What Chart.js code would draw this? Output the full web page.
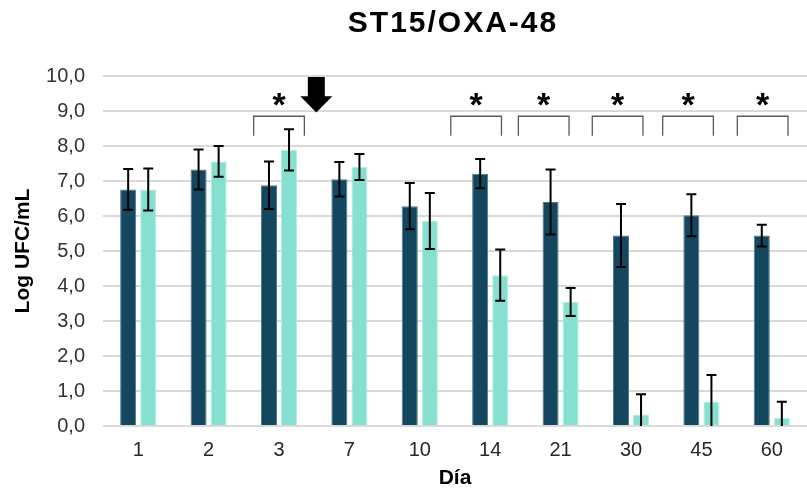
<!DOCTYPE html>
<html>
<head>
<meta charset="utf-8">
<title>ST15/OXA-48</title>
<script src="https://cdn.jsdelivr.net/npm/chart.js@4.4.1/dist/chart.umd.min.js"></script>
<style>
  html, body { margin: 0; padding: 0; background: #fff; }
  #wrap { width: 807px; height: 488px; position: relative; }
</style>
</head>
<body>
<div id="wrap"><canvas id="uptakeChart"></canvas></div>
<script>
'use strict';

var days = ['1', '2', '3', '7', '10', '14', '21', '30', '45', '60'];
var darkValues = [6.76, 7.33, 6.88, 7.05, 6.28, 7.21, 6.40, 5.44, 6.02, 5.44];
var darkErrors = [0.58, 0.57, 0.68, 0.49, 0.66, 0.42, 0.93, 0.90, 0.60, 0.31];
var lightValues = [6.76, 7.56, 7.89, 7.40, 5.86, 4.31, 3.54, 0.33, 0.69, 0.23];
var lightErrors = [0.60, 0.44, 0.59, 0.37, 0.80, 0.73, 0.40, 0.58, 0.77, 0.46];
var yTicks = [0, 1, 2, 3, 4, 5, 6, 7, 8, 9, 10];
var significantDays = ['3', '14', '21', '30', '45', '60'];
var arrowAfterDay = '3';

var FONT = "'Liberation Sans', Arial, sans-serif";
var ctx = document.getElementById('uptakeChart').getContext('2d');

// bracket centre shift, in category widths, per marked day
var bracketShift = { '3': 0, '14': -0.2, '21': -0.24, '30': -0.19, '45': -0.19, '60': -0.13 };

var errorBars = {
  id: 'errorBars',
  afterDatasetsDraw: function(chart) {
    var c = chart.ctx;
    var yScale = chart.scales.y;
    var errs = [darkErrors, lightErrors];
    c.save();
    c.strokeStyle = '#000';
    c.lineWidth = 2;
    chart.data.datasets.forEach(function(ds, di) {
      var meta = chart.getDatasetMeta(di);
      meta.data.forEach(function(bar, i) {
        var v = ds.data[i];
        var e = errs[di][i];
        var yTop = yScale.getPixelForValue(v + e);
        var low = v - e;
        var yBot = yScale.getPixelForValue(Math.max(0, low));
        c.beginPath();
        c.moveTo(bar.x, yTop);
        c.lineTo(bar.x, yBot);
        c.moveTo(bar.x - 5, yTop);
        c.lineTo(bar.x + 5, yTop);
        if (low > 0) {
          c.moveTo(bar.x - 5, yBot);
          c.lineTo(bar.x + 5, yBot);
        }
        c.stroke();
      });
    });
    c.restore();
  }
};

var marks = {
  id: 'marks',
  afterDraw: function(chart) {
    var c = chart.ctx;
    var xScale = chart.scales.x;
    var yScale = chart.scales.y;
    var catW = xScale.getPixelForValue(1) - xScale.getPixelForValue(0);

    c.save();
    // title
    c.fillStyle = '#000';
    c.font = 'bold 30px ' + FONT;
    c.textAlign = 'center';
    c.textBaseline = 'middle';
    if ('letterSpacing' in c) c.letterSpacing = '2px';
    c.fillText('ST15/OXA-48', 453, 24);
    if ('letterSpacing' in c) c.letterSpacing = '0px';

    // brackets and asterisks
    var yTopB = yScale.getPixelForValue(8.85);
    var yLeg = yScale.getPixelForValue(8.29);
    var yStar = yScale.getPixelForValue(9.34);
    significantDays.forEach(function(d) {
      var idx = days.indexOf(d);
      var cx = xScale.getPixelForValue(idx + bracketShift[d]);
      var half = catW * 0.36;
      c.strokeStyle = '#595959';
      c.lineWidth = 1.3;
      c.beginPath();
      c.moveTo(cx - half, yLeg);
      c.lineTo(cx - half, yTopB);
      c.lineTo(cx + half, yTopB);
      c.lineTo(cx + half, yLeg);
      c.stroke();

      c.font = 'bold 34px ' + FONT;
      c.textAlign = 'center';
      c.textBaseline = 'alphabetic';
      var m = c.measureText('*');
      var gy = yStar + (m.actualBoundingBoxAscent - m.actualBoundingBoxDescent) / 2;
      c.fillStyle = '#000';
      c.fillText('*', cx, gy);
    });

    // arrow between day 3 and day 7
    var ax = xScale.getPixelForValue(days.indexOf(arrowAfterDay) + 0.53);
    var aTop = yScale.getPixelForValue(9.97);
    var aHead = yScale.getPixelForValue(9.42);
    var aTip = yScale.getPixelForValue(8.96);
    c.fillStyle = '#000';
    c.beginPath();
    c.moveTo(ax - 8.5, aTop);
    c.lineTo(ax + 8.5, aTop);
    c.lineTo(ax + 8.5, aHead);
    c.lineTo(ax + 16, aHead);
    c.lineTo(ax, aTip);
    c.lineTo(ax - 16, aHead);
    c.lineTo(ax - 8.5, aHead);
    c.closePath();
    c.fill();
    c.restore();
  }
};

var chartData = {
  labels: days,
  datasets: [{
    label: 'Serie 1',
    data: darkValues,
    backgroundColor: '#134760',
    borderColor: '#4f7689',
    borderWidth: 1,
    categoryPercentage: 0.57,
    barPercentage: 0.8
  }, {
    label: 'Serie 2',
    data: lightValues,
    backgroundColor: '#86e0d0',
    borderColor: '#b4ede3',
    borderWidth: 1,
    categoryPercentage: 0.57,
    barPercentage: 0.8
  }]
};

var chartOptions = {
  responsive: true,
  maintainAspectRatio: false,
  animation: false,
  layout: { padding: { top: 76, right: 0, bottom: 0, left: 0 } },
  plugins: {
    legend: { display: false },
    tooltip: { enabled: false },
    title: { display: false }
  },
  scales: {
    x: {
      grid: { display: false, drawTicks: false },
      border: { display: false },
      ticks: { color: '#262626', font: { family: FONT, size: 20 }, padding: 12 },
      title: {
        display: true,
        text: 'Día',
        color: '#000',
        font: { family: FONT, size: 21, weight: 'bold' },
        padding: { top: 0, bottom: -3 }
      },
      afterFit: function(scale) { scale.height = 62; }
    },
    y: {
      min: 0,
      max: 10,
      afterBuildTicks: function(scale) {
        scale.ticks = yTicks.map(function(v) { return { value: v }; });
      },
      grid: { color: '#d9d9d9', lineWidth: 2, drawTicks: false },
      border: { display: false },
      ticks: {
        color: '#333',
        font: { family: FONT, size: 20 },
        padding: 18,
        callback: function(v) { return Number(v).toFixed(1).replace('.', ','); }
      },
      title: {
        display: true,
        text: 'Log UFC/mL',
        color: '#000',
        font: { family: FONT, size: 21, weight: 'bold' },
        padding: { top: 11, bottom: 0 }
      },
      afterFit: function(scale) { scale.width = 103; }
    }
  }
};

var myChart = new Chart(ctx, {
  type: 'bar',
  data: chartData,
  options: chartOptions,
  plugins: [errorBars, marks]
});
</script>
</body>
</html>
